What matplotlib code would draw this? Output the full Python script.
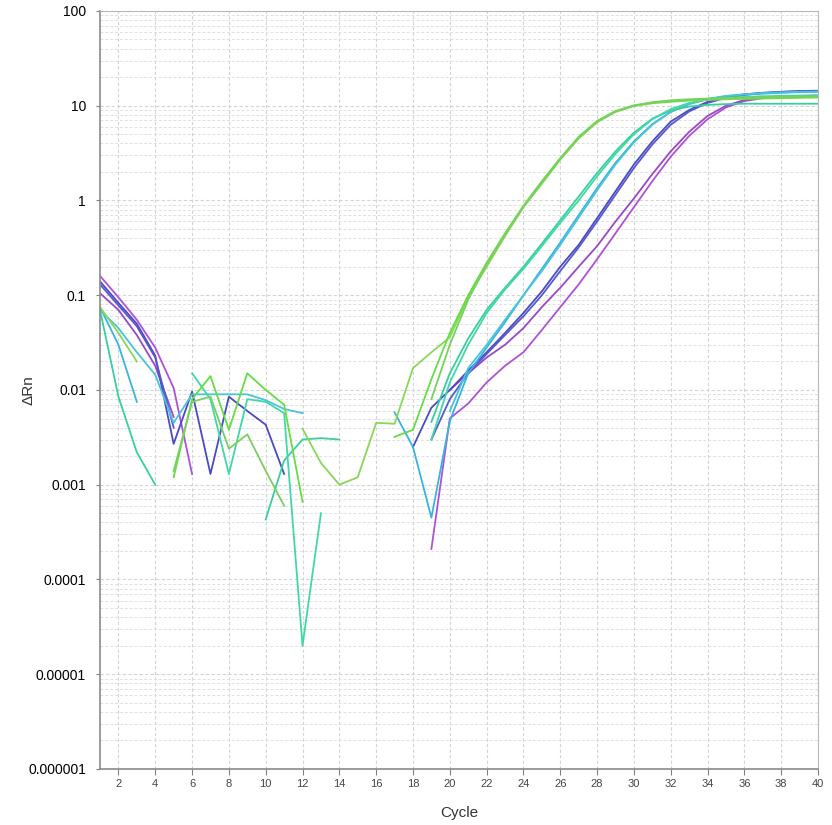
import numpy as np
import matplotlib.pyplot as plt
from matplotlib.ticker import FixedLocator, LogLocator, NullFormatter

# delta Rn per well, stored as {first cycle: consecutive values}
purple_1 = {1: [0.16, 0.095, 0.055, 0.028, 0.0105, 0.0013],
            19: [0.00021, 0.005, 0.0072, 0.012, 0.018, 0.025, 0.043, 0.075, 0.13, 0.24, 0.45,
                 0.85, 1.6, 2.9, 4.8, 7.2, 9.6, 11.2, 12.0, 12.4, 12.6, 12.7]}
purple_2 = {1: [0.105, 0.07, 0.038, 0.018, 0.0052],
            20: [0.01, 0.015, 0.022, 0.03, 0.045, 0.075, 0.12, 0.2, 0.33, 0.6, 1.05,
                 1.9, 3.3, 5.3, 7.8, 10.0, 11.5, 12.2, 12.5, 12.7, 12.8]}
blue_1 = {1: [0.14, 0.083, 0.05, 0.023, 0.0027, 0.0096, 0.0013, 0.0085, 0.006, 0.0043, 0.0013],
          18: [0.0025, 0.0065, 0.01, 0.016, 0.025, 0.04, 0.065, 0.11, 0.2, 0.34, 0.65,
               1.25, 2.4, 4.2, 6.8, 9.0, 11.0, 12.4, 13.2, 13.7, 14.0, 14.2, 14.3]}
blue_2 = {1: [0.13, 0.078, 0.047, 0.022, 0.004],
          19: [0.003, 0.008, 0.015, 0.024, 0.038, 0.06, 0.1, 0.18, 0.32, 0.6, 1.15,
               2.2, 3.9, 6.3, 8.7, 10.7, 12.1, 13.0, 13.6, 14.0, 14.3, 14.4]}
cyan_1 = {1: [0.075, 0.03, 0.0075],
          17: [0.0058, 0.0025, 0.00045, 0.0047, 0.015, 0.028, 0.052, 0.1, 0.19, 0.36, 0.7,
               1.35, 2.5, 4.2, 6.4, 8.6, 10.4, 11.7, 12.6, 13.1, 13.4, 13.7, 13.9, 14.0]}
cyan_2 = {1: [0.07, 0.045, 0.025, 0.0145, 0.0045, 0.009, 0.009, 0.009, 0.009, 0.0078,
              0.0063, 0.0057],
          20: [0.006, 0.017, 0.03, 0.055, 0.1, 0.18, 0.34, 0.66, 1.28, 2.4, 4.1,
               6.3, 8.6, 10.5, 11.8, 12.7, 13.2, 13.6, 13.8, 14.0, 14.1]}
teal_1 = {1: [0.07, 0.0085, 0.0022, 0.001],
          10: [0.00043, 0.0018, 0.003, 0.0031, 0.003],
          19: [0.0046, 0.015, 0.035, 0.07, 0.12, 0.2, 0.35, 0.62, 1.1, 1.95, 3.3,
               5.2, 7.3, 8.9, 9.8, 10.2, 10.4, 10.5, 10.5, 10.5, 10.5, 10.5]}
teal_2 = {6: [0.015, 0.008, 0.0013, 0.008, 0.0075, 0.0057, 0.00002, 0.0005],
          19: [0.003, 0.012, 0.03, 0.065, 0.115, 0.19, 0.33, 0.58, 1.0, 1.8, 3.1,
               5.0, 7.2, 9.2, 10.7, 11.6, 12.1, 12.4, 12.6, 12.7, 12.8, 12.9]}
green_1 = {1: [0.075, 0.04, 0.02],
           12: [0.0039, 0.0017, 0.001, 0.0012, 0.0045, 0.0044, 0.017, 0.025, 0.036, 0.095,
                0.2, 0.42, 0.85, 1.5, 2.7, 4.5, 6.7, 8.6, 9.9, 10.6, 11.0, 11.3, 11.5,
                11.7, 11.8, 11.9, 12.0, 12.1, 12.2]}
green_2 = {5: [0.0012, 0.008, 0.014, 0.0038, 0.015, 0.01, 0.007, 0.00066],
           17: [0.0032, 0.0038, 0.013, 0.04, 0.1, 0.22, 0.45, 0.88, 1.6, 2.8, 4.7, 6.9,
                8.8, 10.1, 10.8, 11.2, 11.5, 11.7, 11.9, 12.0, 12.1, 12.2, 12.3, 12.4]}
green_3 = {5: [0.0014, 0.0075, 0.0085, 0.0024, 0.0034, 0.0014, 0.0006],
           19: [0.008, 0.03, 0.09, 0.21, 0.44, 0.86, 1.55, 2.75, 4.6, 6.8, 8.7, 10.0,
                10.9, 11.4, 11.7, 11.9, 12.1, 12.2, 12.3, 12.4, 12.5, 12.6]}

wells = [purple_1, purple_2, blue_1, blue_2, cyan_1, cyan_2,
         teal_1, teal_2, green_1, green_2, green_3]
colors = ['#b050d8', '#9a48c8', '#4a4ac4', '#5858cc', '#38b4e0', '#48c4dc',
          '#38cfa0', '#40d8a8', '#88d858', '#66dd44', '#78d060']

cycles = np.arange(1, 41)

fig = plt.figure(figsize=(8.32, 8.25), dpi=100)
ax = fig.add_axes([0.1202, 0.0679, 0.8630, 0.9188])

for well, c in zip(wells, colors):
    y = np.full(len(cycles), np.nan)
    for start, vals in well.items():
        y[start - 1:start - 1 + len(vals)] = vals
    ax.plot(cycles, y, color=c, lw=1.3)

ax.set_yscale('log')
ax.set_xlim(1, 40)
ax.set_ylim(1e-6, 100)

ax.xaxis.set_major_locator(FixedLocator(np.arange(2, 41, 2)))
ax.yaxis.set_major_locator(FixedLocator([1e-6, 1e-5, 1e-4, 1e-3, 1e-2, 0.1, 1, 10, 100]))
ax.set_yticklabels(['0.000001', '0.00001', '0.0001', '0.001', '0.01', '0.1', '1', '10', '100'])
ax.yaxis.set_minor_locator(LogLocator(base=10, subs=np.arange(2, 10)))
ax.yaxis.set_minor_formatter(NullFormatter())

ax.grid(True, which='major', color='#d4d4d4', ls=(0, (3, 2)), lw=0.8)
ax.grid(True, which='minor', axis='y', color='#e0e0e0', ls=(0, (3, 2)), lw=0.7)
ax.set_axisbelow(True)

ax.tick_params(axis='y', which='major', labelsize=10, length=3, color='#808080', pad=7)
ax.tick_params(axis='y', which='minor', length=0)
ax.tick_params(axis='x', labelsize=8, length=4, color='#808080', labelcolor='#444444')
for lab in ax.get_xticklabels() + ax.get_yticklabels():
    lab.set_family(['Liberation Sans', 'DejaVu Sans'])

for s in ['left', 'bottom']:
    ax.spines[s].set_color('#8a8a8a')
    ax.spines[s].set_linewidth(1.2)
for s in ['top', 'right']:
    ax.spines[s].set_color('#b8b8b8')

ax.set_xlabel('Cycle', fontsize=11, family=['Liberation Sans', 'DejaVu Sans'],
              color='#333333', labelpad=12)
ax.set_ylabel('ΔRn', fontsize=11, family=['Liberation Sans', 'DejaVu Sans'],
              color='#333333')
ax.yaxis.set_label_coords(-0.09, 0.5)

fig.savefig('out.png', dpi=100)
